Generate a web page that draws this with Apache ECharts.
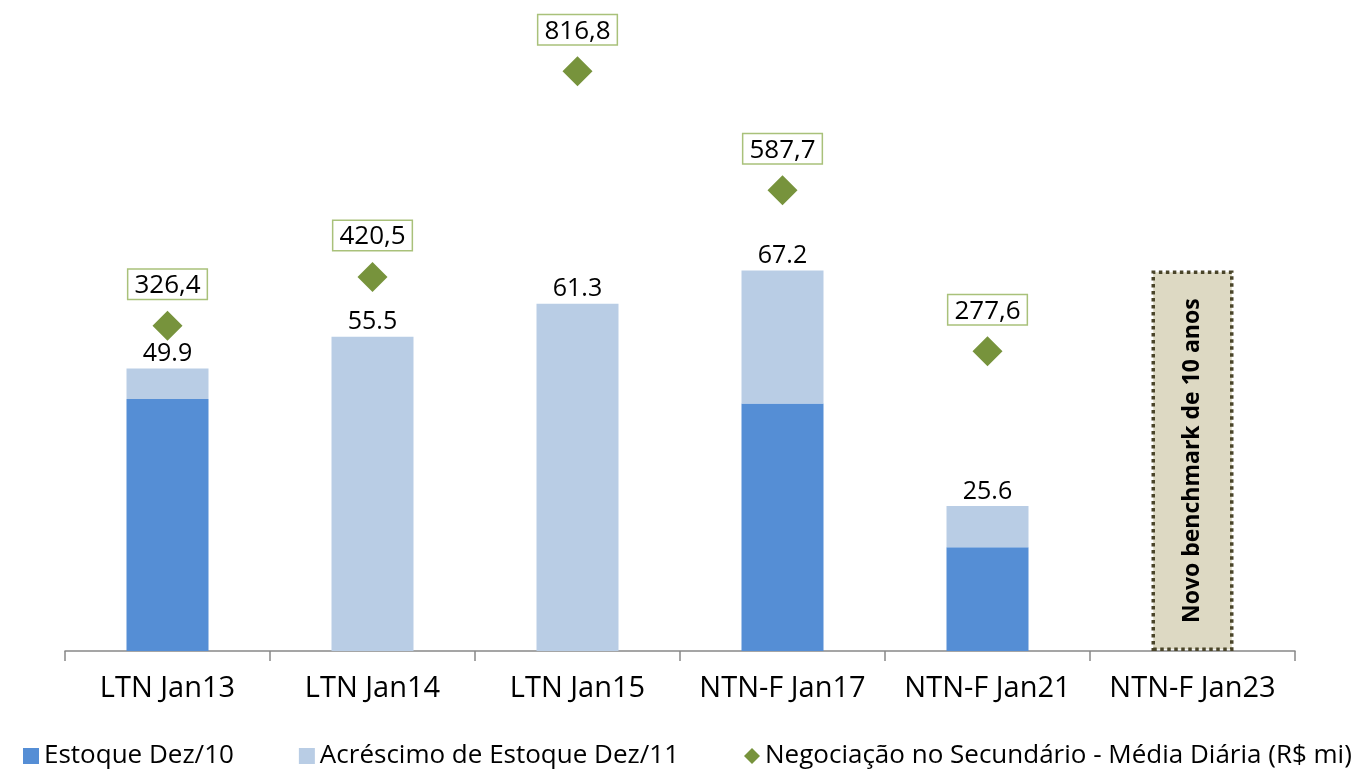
<!DOCTYPE html>
<html>
<head>
<meta charset="utf-8">
<script src="https://cdn.jsdelivr.net/npm/echarts@6/dist/echarts.min.js"></script>
<style>
html,body{margin:0;padding:0;background:#fff;}
#chart{width:1372px;height:774px;}
</style>
</head>
<body>
<div id="chart"></div>
<script>
var categories=['LTN Jan13','LTN Jan14','LTN Jan15','NTN-F Jan17','NTN-F Jan21','NTN-F Jan23'];
var estoque=[44.5,0,0,43.7,18.3,0];
var acrescimo=[5.4,55.5,61.3,23.5,7.3,0];
var benchmark=['-','-','-','-','-',67.2];
var negociacao=[326.4,420.5,816.8,587.7,277.6,null];

var totals=estoque.map(function(v,i){return v+acrescimo[i];});
var fontName='"Open Sans", "DejaVu Sans", sans-serif';

var chart=echarts.init(document.getElementById('chart'));
var option={
    animation:false,
    textStyle:{fontFamily:fontName,color:'#000'},
    grid:{left:65,right:77,top:28,bottom:123},
    legend:{
        bottom:0,
        left:18,
        itemWidth:16,
        itemHeight:16,
        itemGap:65,
        textStyle:{fontSize:26,color:'#000',fontFamily:fontName},
        data:[
            {name:'Estoque Dez/10',icon:'rect'},
            {name:'Acréscimo de Estoque Dez/11',icon:'rect'},
            {name:'Negociação no Secundário - Média Diária (R$ mi)',icon:'diamond'}
        ]
    },
    xAxis:{
        type:'category',
        data:categories,
        axisLine:{lineStyle:{color:'#888',width:1.5}},
        axisTick:{show:true,interval:0,length:10,lineStyle:{color:'#888',width:1.5}},
        axisLabel:{interval:0,fontSize:29,color:'#000',margin:23}
    },
    yAxis:[
        {type:'value',min:0,max:110,show:false,splitLine:{show:false}},
        {type:'value',min:-300,max:900,show:false,splitLine:{show:false}}
    ],
    series:[
        {
            name:'Estoque Dez/10',
            type:'bar',
            stack:'a',
            barWidth:82,
            data:estoque,
            itemStyle:{color:'#558ed5'}
        },
        {
            name:'Acréscimo de Estoque Dez/11',
            type:'bar',
            stack:'a',
            barWidth:82,
            data:acrescimo,
            itemStyle:{color:'#b9cde5'},
            label:{
                show:true,
                position:'top',
                distance:2,
                fontSize:25,
                color:'#000',
                formatter:function(p){
                    var t=totals[p.dataIndex];
                    return t>0?t.toFixed(1):'';
                }
            }
        },
        {
            name:'Novo benchmark',
            type:'bar',
            stack:'a',
            barWidth:82,
            data:benchmark,
            itemStyle:{color:'#ddd9c3',borderColor:'#4a452a',borderWidth:3.5,borderType:[3.5,3.5]},
            label:{
                show:true,
                position:'inside',
                rotate:90,
                fontSize:23,
                fontWeight:'bold',
                color:'#000',
                formatter:function(){return 'Novo benchmark de 10 anos';}
            }
        },
        {
            name:'Negociação no Secundário - Média Diária (R$ mi)',
            type:'scatter',
            yAxisIndex:1,
            symbol:'diamond',
            symbolSize:30,
            data:negociacao,
            itemStyle:{color:'#77933c',opacity:1},
            label:{
                show:true,
                position:'top',
                distance:12,
                fontSize:26,
                color:'#000',
                backgroundColor:'#fff',
                borderColor:'#a9c17a',
                borderWidth:1.5,
                padding:[3,6,0,6],
                formatter:function(p){return p.value.toFixed(1).replace('.',',');}
            }
        }
    ]
};
chart.setOption(option);
</script>
</body>
</html>
